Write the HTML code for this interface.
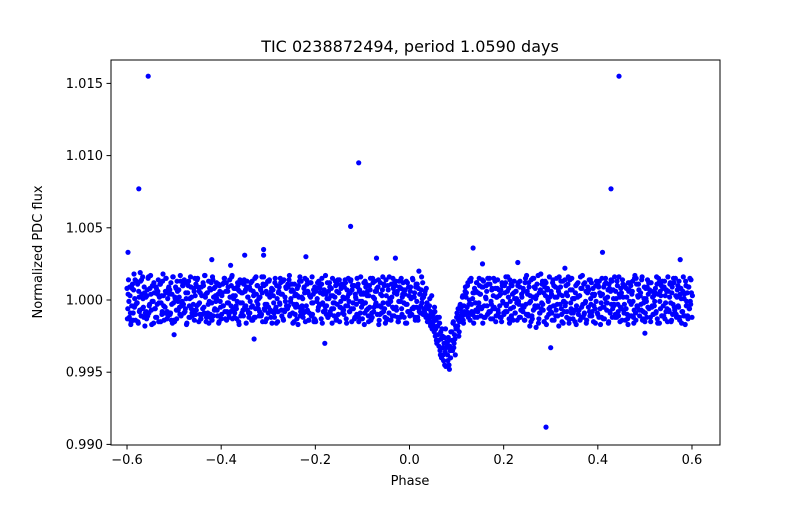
<!DOCTYPE html>
<html><head><meta charset="utf-8"><style>
body{margin:0;background:#fff;font-family:"Liberation Sans","DejaVu Sans",sans-serif}
</style></head><body>
<svg id="chart" width="800" height="500" xmlns="http://www.w3.org/2000/svg" font-family="DejaVu Sans, Liberation Sans, sans-serif">
<rect width="800" height="500" fill="#fff"/>
<text x="410" y="52" font-size="16" text-anchor="middle">TIC 0238872494, period 1.0590 days</text>
<text x="410" y="485" font-size="13" text-anchor="middle">Phase</text>
<text x="42" y="252" font-size="13" text-anchor="middle" transform="rotate(-90 42 252)">Normalized PDC flux</text>
<g id="pts"></g>
<rect x="111" y="60" width="609" height="385" fill="none" stroke="#000" stroke-width="1"/>
<g id="ax"></g>
</svg>
<script>
const xTicks=[-0.6,-0.4,-0.2,0.0,0.2,0.4,0.6];
const xTickLabels=["−0.6","−0.4","−0.2","0.0","0.2","0.4","0.6"];
const yTicks=[0.990,0.995,1.000,1.005,1.010,1.015];
const yTickLabels=["0.990","0.995","1.000","1.005","1.010","1.015"];
const binStart=-0.60, binStep=0.01;
// flux deviations (x1e-4) per phase bin, 6 points each
const binDev=[
"8,-6,14,-12,3,-17","-4,11,-9,18,1,-14","13,-2,-15,6,-8,19","-11,4,16,-5,9,-18","2,-13,7,15,-9,-3","17,-7,-1,10,-16,5",
"-6,9,-12,4,14,-2","11,-15,3,-8,18,-4","-9,6,15,-13,1,8","4,-10,12,-3,-16,16","-14,2,9,-7,13,-1","7,-5,17,-11,-2,10",
"-3,14,-8,5,-17,12","10,-12,1,16,-6,-9","-7,8,-14,3,11,-4","15,-3,6,-10,-13,9","-10,12,-5,17,2,-15","5,-9,13,-1,-12,7",
"-2,16,-11,8,-6,3","12,-7,4,-16,10,-1","-13,3,11,-4,15,-8","6,-14,-2,9,-10,14","-8,10,17,-6,1,-12","3,-4,-13,12,7,-17",
"14,-11,5,-2,-7,11","-5,7,-16,13,2,-9","9,-1,12,-14,-4,6","-12,15,-6,4,10,-3","1,-8,8,-11,16,-15","16,-6,-3,11,-13,4",
"-9,13,2,-7,6,-16","7,-2,-12,15,-5,10","-15,5,9,-3,12,-7","4,-13,14,-8,-1,8","-6,11,-4,17,-10,1","11,-9,6,-15,3,-5",
"-3,8,-17,2,13,-11","13,-4,1,-9,9,15","-8,14,-7,5,-14,3","2,-11,16,-2,7,-13","-14,6,-1,12,-5,9","8,-3,11,-16,4,-8",
"-4,17,-10,1,-12,6","12,-8,3,-6,15,-2","-11,2,10,-13,-3,14","5,-15,-5,8,11,-9","-7,9,14,-4,-16,2","15,-1,-8,13,-6,7",
"-2,10,-13,4,1,-10","9,-12,6,-1,16,-5","-13,4,12,-9,-2,11","3,-6,-15,10,7,-14","-9,15,2,-5,13,-3","6,-10,9,-17,-4,12",
"-5,3,16,-8,10,-12","14,-14,-2,7,-9,1","-1,11,-11,15,-6,5","10,-5,4,-12,-15,13","-12,8,-6,2,12,-2","4,-16,13,-3,-8,9",
"-8,6,1,-10,15,-6","2,-12,9,-5,11,-14","-6,4,-9,7,-2,12","9,-7,5,-13,14,-3","-4,12,-16,1,-10,6","11,-2,-7,10,-5,-11",
"-10,7,15,-6,3,-13","5,-14,-3,12,-8,8","-3,9,-12,6,16,-1","8,-6,2,-15,-4,11","-13,14,7,-2,-9,4","6,-9,-14,11,1,-6",
"-7,16,3,-11,10,-4","13,-3,-10,5,-16,8","-2,6,12,-8,-5,15","4,-11,-6,14,9,-12","-12,2,10,-4,15,-9","15,-8,-1,7,-13,3",
"-5,13,-15,2,8,-7","7,-4,4,-12,12,-1","-9,10,-8,16,-3,6","2,-13,14,-6,-11,10","-14,5,1,-9,6,-2","10,-1,-12,13,-7,4",
"-4,8,-5,-14,15,-10","6,-10,12,-2,3,-15","-11,15,-7,9,-4,1","3,-5,17,-13,-9,7","-6,11,-3,5,-15,13","12,-12,8,-1,-6,2",
"-8,4,-14,14,10,-4","9,-7,2,-11,6,16","-3,13,-10,3,-16,-1","14,-2,5,-8,11,-13","-13,7,-6,15,1,-9","1,-15,10,-4,-7,12",
"-7,3,16,-12,8,-3","11,-9,-2,6,-14,5","-5,14,-11,1,12,-8","8,-4,4,-16,-1,10","-10,9,13,-6,3,-12","4,-13,-5,11,15,-2",
"-2,7,-15,8,-9,14","13,-6,1,-3,-12,6","-12,10,-8,16,2,-5","5,-14,11,-7,-3,9","-6,2,-13,12,7,-11","10,-11,6,-1,-16,15",
"-9,15,-4,3,11,-7","3,-3,14,-14,-8,1","-15,8,-1,9,-5,12","7,-12,12,-5,2,-10","-4,5,-9,16,-13,4","12,-1,-6,10,-11,8",
"-11,13,3,-8,6,-15","6,-8,11,-2,-14,9","-3,12,-7,15,-10,2","10,-5,-12,4,8,-16","-8,16,1,-11,13,-4","5,-13,9,-6,-1,14",
"-12,3,-9,12,7,-2"
];
// transit dip override bins (phase 0.03..0.12)
const dipPhase=[0.03,0.04,0.05,0.06,0.07,0.08,0.09,0.10,0.11,0.12];
const dipDev=["2,-8,6,-12,-4,-15","-6,-14,1,-18,-9,-20","-10,-18,-5,-25,-14,-30","-18,-28,-12,-35,-22,-40","-25,-38,-30,-45,-20,-33","-30,-42,-28,-48,-35,-22","-22,-35,-15,-30,-27,-18","-12,-20,-6,-25,-15,-3","-5,-12,3,-16,-8,6","2,-8,10,-12,-3,14"];
const dipDev2=["-6,4,-10,8,-2,-13","-11,-4,-16,-8,3,-12","-15,-22,-8,-20,-28,-12","-24,-32,-16,-38,-27,-20","-33,-42,-26,-36,-46,-29","-38,-26,-45,-32,-40,-34","-28,-16,-33,-24,-38,-20","-9,-18,-14,-22,-4,-11","-8,2,-14,-4,-10,9","5,-5,12,-9,0,-14"];
const outPhase=[-0.555,-0.575,0.445,0.428,-0.108,-0.125,0.29,0.30,0.135,-0.598,0.41,-0.31,-0.31,-0.35,-0.22,-0.42,-0.18,-0.33,0.23,0.155,0.575,-0.07,-0.03,0.02,-0.38,0.33,-0.5,0.5];
const outFlux=[1.0155,1.0077,1.0155,1.0077,1.0095,1.0051,0.9912,0.9967,1.0036,1.0033,1.0033,1.0035,1.0031,1.0031,1.0030,1.0028,0.9970,0.9973,1.0026,1.0025,1.0028,1.0029,1.0029,1.0020,1.0024,1.0022,0.9976,0.9977];

const x=v=>409.5+v*470.8;
const y=v=>300-(v-1)*14440;
const NS="http://www.w3.org/2000/svg";
const pts=document.getElementById('pts'), ax=document.getElementById('ax');
function dot(p,f){
  const c=document.createElementNS(NS,'circle');
  
  
  c.setAttribute('cx',x(p).toFixed(1));c.setAttribute('cy',y(f).toFixed(1));
  c.setAttribute('r','2.6');c.setAttribute('fill','#0000ff');pts.appendChild(c);
}
const N=binDev.length;
binDev.forEach((s,i)=>{
  let ph=Math.round((binStart+i*binStep)*100)/100;
  let di=dipPhase.findIndex(d=>Math.abs(d-ph)<1e-6);
  let vals=(di>=0?dipDev[di]:s).split(',').map(Number);
  vals.forEach((d,k)=>{let p=ph+k*0.0016; if(p<=0.601) dot(p,1+d*1e-4);});
  let vals2=(di>=0?dipDev2[di]:binDev[(i+37)%N]).split(',').map(Number);
  vals2.forEach((d,k)=>{let p=ph+0.0008+k*0.0016; if(p<=0.601) dot(p,1+(di>=0?d:-d)*1e-4);});
});
outPhase.forEach((p,i)=>dot(p,outFlux[i]));
function line(x1,y1,x2,y2,name){
  const l=document.createElementNS(NS,'line');
  
  
  l.setAttribute('x1',x1);l.setAttribute('y1',y1);l.setAttribute('x2',x2);l.setAttribute('y2',y2);
  l.setAttribute('stroke','#000');ax.appendChild(l);
}
function txt(tx,ty,s,anchor,name){
  const t=document.createElementNS(NS,'text');
  
  
  t.setAttribute('x',tx);t.setAttribute('y',ty);t.setAttribute('font-size','13');
  t.setAttribute('text-anchor',anchor);t.textContent=s;ax.appendChild(t);
}
xTicks.forEach((v,i)=>{line(x(v),445,x(v),449.5,'x-tick');txt(x(v),464,xTickLabels[i],'middle','x-tick-label');});
yTicks.forEach((v,i)=>{line(106.5,y(v),111,y(v),'y-tick');txt(103,y(v)+4.5,yTickLabels[i],'end','y-tick-label');});
</script>
</body></html>
